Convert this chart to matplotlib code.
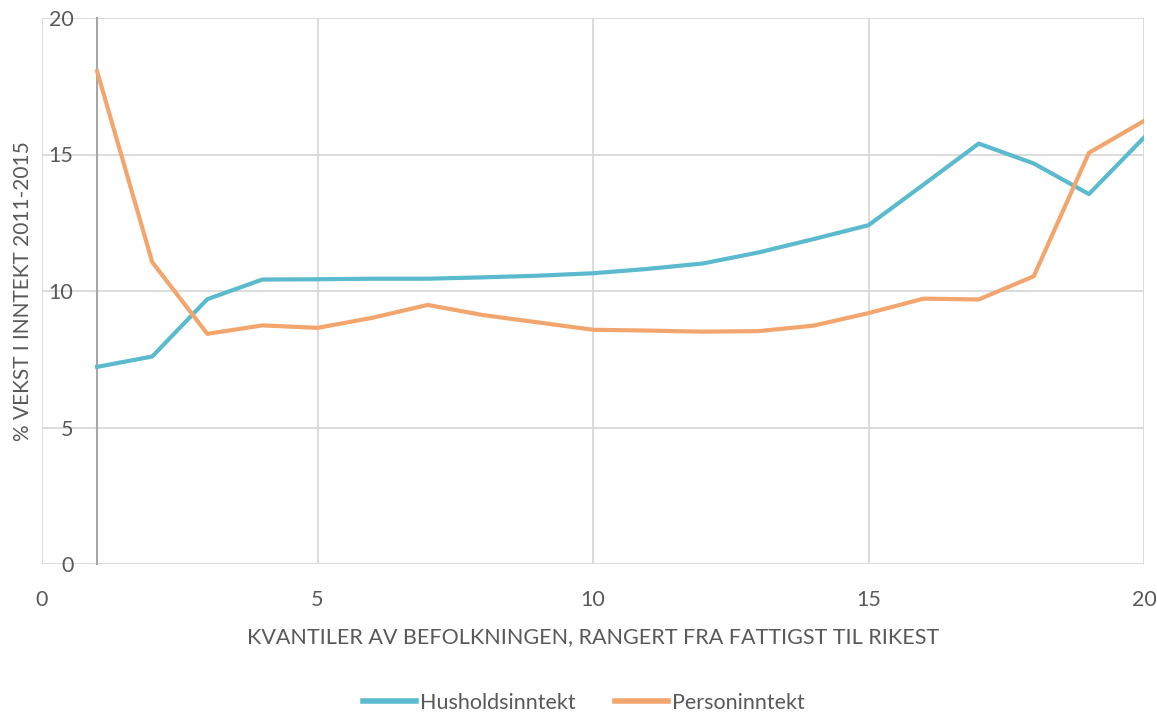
import matplotlib
matplotlib.use("Agg")
import matplotlib.pyplot as plt

plt.rcParams['font.family'] = ['Lato', 'DejaVu Sans']

quantiles = list(range(1, 21))
husholds = [7.22, 7.6, 9.70, 10.42, 10.43, 10.45, 10.45, 10.50, 10.56, 10.65,
            10.81, 11.01, 11.41, 11.9, 12.41, 13.9, 15.40, 14.67, 13.55, 15.62]
person = [18.05, 11.06, 8.43, 8.74, 8.65, 9.02, 9.49, 9.12, 8.85, 8.58,
          8.55, 8.51, 8.53, 8.73, 9.19, 9.72, 9.69, 10.54, 15.06, 16.23]

series_names = ["Husholdsinntekt", "Personinntekt"]
colors = ["#5bbacd", "#f2a66e"]
xticks = [0, 5, 10, 15, 20]
yticks = [0, 5, 10, 15, 20]
xlabel = "KVANTILER AV BEFOLKNINGEN, RANGERT FRA FATTIGST TIL RIKEST"
ylabel = "% VEKST I INNTEKT 2011-2015"

fig = plt.figure(figsize=(11.57, 7.14), dpi=100)
ax = fig.add_axes([42/1157, 1-564/714, (1144-42)/1157, (564-18)/714])

ax.plot(quantiles, husholds, color=colors[0], lw=3, label=series_names[0], zorder=3)
ax.plot(quantiles, person, color=colors[1], lw=3, label=series_names[1], zorder=3)

ax.set_xlim(0, 20)
ax.set_ylim(0, 20)
ax.set_xticks(xticks)
ax.set_yticks(yticks)
ax.grid(True, color="#d9d9d9", lw=1.3, zorder=0)
ax.set_axisbelow(True)

for s in ['top', 'right', 'bottom']:
    ax.spines[s].set_visible(False)
ax.spines['left'].set_position(('data', 1))
ax.spines['left'].set_color('#a6a6a6')
ax.spines['left'].set_linewidth(1.5)

ax.tick_params(axis='both', length=0, labelsize=15.5, labelcolor='#595959')
ax.tick_params(axis='y', pad=17)
ax.tick_params(axis='x', pad=19)

ax.set_xlabel(xlabel, fontsize=15.5, color='#595959', labelpad=12)
fig.text(23/1157, 1-291/714, ylabel, rotation=90, ha='center', va='center',
         fontsize=15, color='#595959')

leg = fig.legend(loc='center', bbox_to_anchor=(584/1157, 1-703/714), ncol=2,
                 frameon=False, fontsize=15.5, handlelength=2.45, columnspacing=1.8,
                 handletextpad=0.2)
for t in leg.get_texts():
    t.set_color('#595959')
for l in leg.get_lines():
    l.set_linewidth(4)

fig.savefig("out.png", dpi=100)
